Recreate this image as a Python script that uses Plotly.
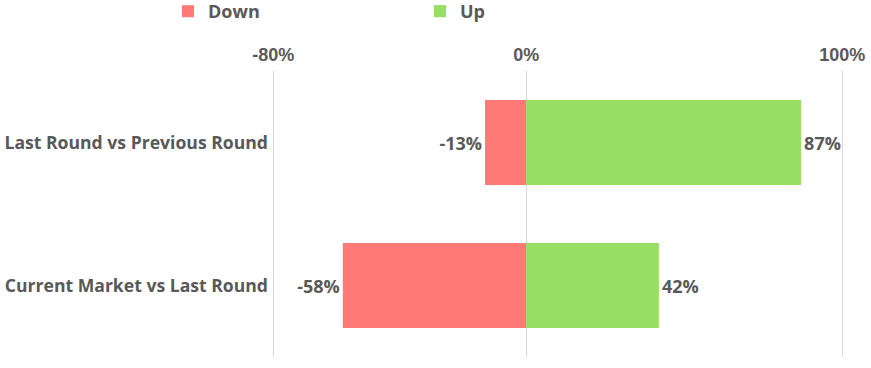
import plotly.graph_objects as go

categories = ["Last Round vs Previous Round", "Current Market vs Last Round"]
down_values = [-13, -58]
up_values = [87, 42]
tick_values = [-80, 0, 100]
tick_labels = ["-80%", "0%", "100%"]

RED = "#FF7976"
GREEN = "#96DF64"
GRAY = "#595959"
FONT = "Open Sans"
FS = 18

fig = go.Figure()
fig.add_trace(go.Bar(
    y=categories, x=down_values, orientation="h", name="Down",
    marker=dict(color=RED, line=dict(width=0)),
    text=[f"{v}%" for v in down_values], textposition="outside",
    textfont=dict(family=FONT, size=FS, color=GRAY, weight=700),
    cliponaxis=False, legend="legend", showlegend=True,
))
fig.add_trace(go.Bar(
    y=categories, x=up_values, orientation="h", name="Up",
    marker=dict(color=GREEN, line=dict(width=0)),
    text=[f"{v}%" for v in up_values], textposition="outside",
    textfont=dict(family=FONT, size=FS, color=GRAY, weight=700),
    cliponaxis=False, legend="legend2", showlegend=True,
))

legend_common = dict(
    orientation="h", xref="container", xanchor="left",
    y=1 + 78 / 286, yref="paper", yanchor="top",
    font=dict(family=FONT, size=FS, color=GRAY, weight=700),
    itemsizing="constant", bgcolor="rgba(0,0,0,0)",
)

fig.update_layout(
    width=871, height=368,
    showlegend=True,
    margin=dict(l=272, r=25, t=71, b=11, autoexpand=False),
    barmode="relative",
    bargap=0.406,
    plot_bgcolor="white", paper_bgcolor="white",
    font=dict(family=FONT, size=FS, color=GRAY),
    legend=dict(x=168 / 871, **legend_common),
    legend2=dict(x=420 / 871, **legend_common),
    xaxis=dict(
        side="top", range=[-80.4, 101.2], tickvals=tick_values, ticktext=tick_labels,
        showgrid=True, gridcolor="#D9D9D9", gridwidth=1,
        zeroline=False, showline=False, ticks="",
        tickfont=dict(family="Liberation Sans", size=FS, color=GRAY, weight=700),
        ticklabelstandoff=5,
        fixedrange=True,
    ),
    yaxis=dict(
        categoryorder="array", categoryarray=categories, autorange="reversed",
        showgrid=False, zeroline=False, showline=False, ticks="",
        tickfont=dict(family=FONT, size=17.6, color=GRAY, weight=700),
        ticklabelstandoff=3,
    ),
)

fig.write_html("out.html")
